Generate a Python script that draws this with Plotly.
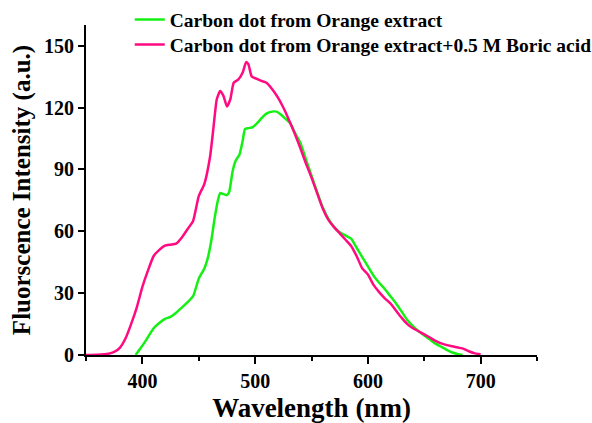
import plotly.graph_objects as go

# Data
wl_boric = [350, 360, 370, 375, 380, 385, 390, 395, 400, 405, 410, 415, 420, 425, 430, 435, 440, 445,
            450, 455, 460, 463, 466, 469, 472, 475, 478, 481, 485, 489, 492, 494, 497, 501, 505, 510,
            515, 520, 525, 530, 535, 540, 545, 550, 555, 560, 565, 570, 575, 580, 585, 590, 595, 600,
            605, 610, 615, 620, 625, 630, 635, 640, 645, 650, 655, 660, 665, 670, 675, 680, 685, 690,
            695, 700]
int_boric = [0, 0.1, 0.6, 1.5, 3.5, 8, 15, 23, 33, 41, 48, 51, 53, 53.5, 54, 57, 61, 65,
             77, 83, 96, 110, 124, 128, 125.5, 120.5, 124, 132, 133.5, 137, 142, 141, 135, 134, 133, 132,
             129, 125, 120, 114, 107.5, 100.5, 93, 86, 78.5, 71, 65.5, 62, 59, 56, 53, 48, 42, 39,
             34, 30.5, 27.5, 25, 21.5, 18, 15, 13, 11.5, 10, 8.5, 6.8, 5.6, 4.8, 4.2, 3.6, 3, 1.7,
             0.8, 0.4]

wl_orange = [394, 398, 403, 407, 410, 415, 420, 425, 430, 435, 440, 445, 450, 455, 458, 461, 464, 467,
             469, 472, 475, 477, 480, 483, 486, 489, 491, 494, 498, 502, 506, 510, 515, 519, 523, 527,
             531, 535, 540, 545, 550, 555, 560, 565, 570, 575, 580, 585, 590, 595, 600, 605, 610, 615,
             620, 625, 630, 635, 640, 645, 650, 655, 660, 665, 670, 675, 680, 684]
int_orange = [0, 3, 7, 10.5, 13, 15.5, 17.5, 18.5, 20.5, 23, 25.5, 28.5, 37, 42, 47, 55, 66, 75,
              78.5, 78, 77.5, 79, 89, 94.5, 97, 104, 109.5, 110, 110.5, 112.5, 115, 117, 118, 118, 116.5, 114.5,
              112.5, 108, 103, 95, 87, 79, 71.5, 66, 62, 59.5, 58, 56.5, 52, 47.5, 43, 38.5, 35, 32,
              28.5, 25, 21, 17, 14, 11.5, 9.5, 7.5, 5.5, 4, 2.5, 1.2, 0.4, 0]

x_ticks = [400, 500, 600, 700]
x_minor = [350, 450, 550, 650, 750]
y_ticks = [0, 30, 60, 90, 120, 150]

FONT = "Times New Roman, Liberation Serif, serif"
LEG_FONT = dict(family=FONT, size=19.5, color="black")

fig = go.Figure()
fig.add_trace(go.Scatter(x=wl_orange, y=int_orange, mode="lines",
                         name="<b>Carbon dot from Orange extract</b>", legend="legend",
                         line=dict(color="#14f014", width=2.5, shape="spline", smoothing=0.5)))
fig.add_trace(go.Scatter(x=wl_boric, y=int_boric, mode="lines",
                         name="<b>Carbon dot from Orange extract+0.5 M Boric acid</b>", legend="legend2",
                         line=dict(color="#ff0a80", width=2.5, shape="spline", smoothing=0.5)))

fig.update_layout(
    width=592, height=423,
    margin=dict(l=86, r=55, t=25, b=68, autoexpand=False),
    paper_bgcolor="white", plot_bgcolor="white",
    font=dict(family=FONT, color="black"),
    showlegend=True,
    legend=dict(x=0.097, y=1.075, xanchor="left", yanchor="top",
                bgcolor="rgba(0,0,0,0)", font=LEG_FONT, itemwidth=30),
    legend2=dict(x=0.097, y=0.999, xanchor="left", yanchor="top",
                 bgcolor="rgba(0,0,0,0)", font=LEG_FONT, itemwidth=30),
)
fig.update_xaxes(
    range=[350, 750], tickvals=x_ticks, ticktext=[f"<b>{v}</b>" for v in x_ticks],
    showline=True, linecolor="black", linewidth=2, mirror=False,
    ticks="outside", ticklen=7, tickwidth=2, tickcolor="black",
    minor=dict(tickvals=x_minor, ticks="outside", ticklen=4, tickwidth=2, tickcolor="black"),
    showgrid=False, zeroline=False,
    tickfont=dict(family=FONT, size=20, color="black"),
    title=dict(text="<b>Wavelength (nm)</b>", font=dict(family=FONT, size=27, color="black"), standoff=7),
)
fig.update_yaxes(
    range=[0, 160], tickvals=y_ticks, ticktext=[f"<b>{v}</b>" for v in y_ticks],
    showline=True, linecolor="black", linewidth=2, mirror=False,
    ticks="outside", ticklen=6, tickwidth=2, tickcolor="black",
    showgrid=False, zeroline=False,
    tickfont=dict(family=FONT, size=20, color="black"),
    title=dict(text="<b>Fluorscence Intensity (a.u.)</b>", font=dict(family=FONT, size=25, color="black"), standoff=6),
)

fig.write_html("out.html")
